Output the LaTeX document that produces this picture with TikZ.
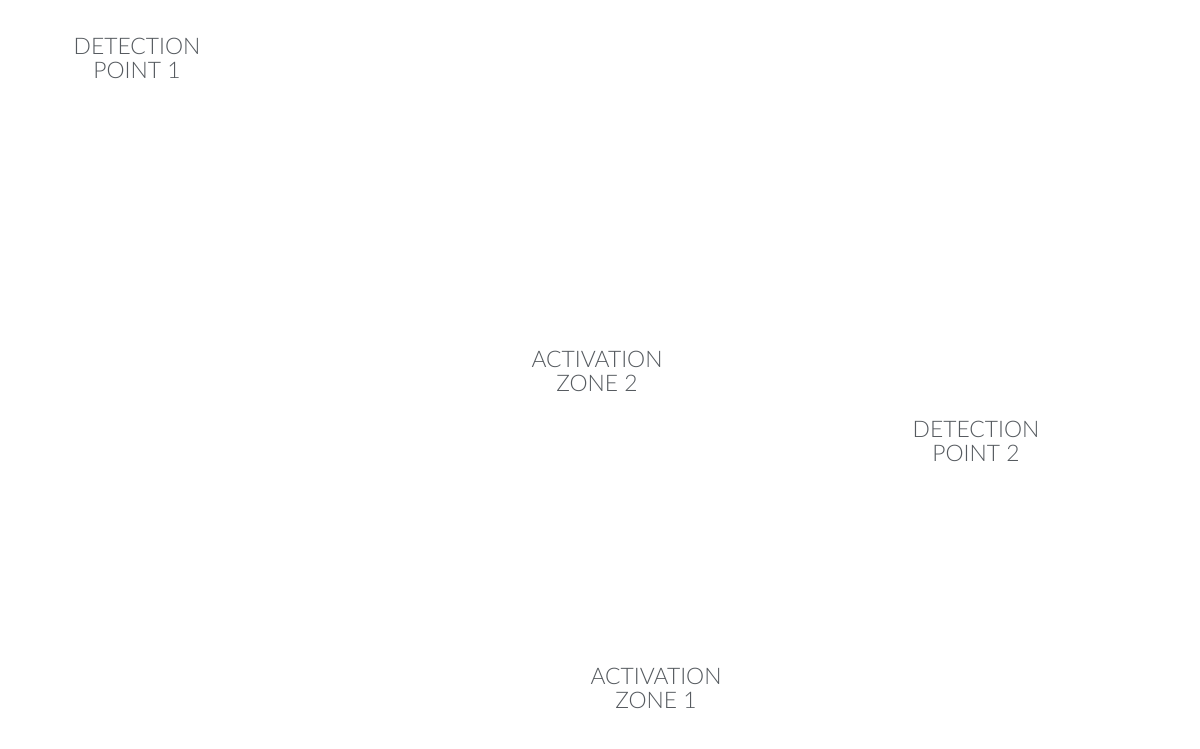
\documentclass[tikz,border=0pt]{standalone}
\usepackage{fontspec}
\setmainfont{Lato}[UprightFont=* Light]
\usepackage{tikz}
\definecolor{lbl_grey}{RGB}{85, 90, 95}
\tikzstyle{lbl}=[text=lbl_grey,align=center,font=\fontsize{13}{13.6}\selectfont,
  inner sep=0pt]
\tikzstyle{none}=[]

\begin{document}
\begin{tikzpicture}
            \useasboundingbox [fill=white] (0, 0) rectangle (24, -14.96);
            \node [style=lbl] (1) at (2.74, -1.16) {DETECTION\\POINT 1};
            \node [style=lbl] (2) at (11.94, -7.42) {ACTIVATION\\ZONE 2};
            \node [style=lbl] (3) at (19.52, -8.82) {DETECTION\\POINT 2};
            \node [style=lbl] (4) at (13.12, -13.76) {ACTIVATION\\ZONE 1};
    \end{tikzpicture}
\end{document}
